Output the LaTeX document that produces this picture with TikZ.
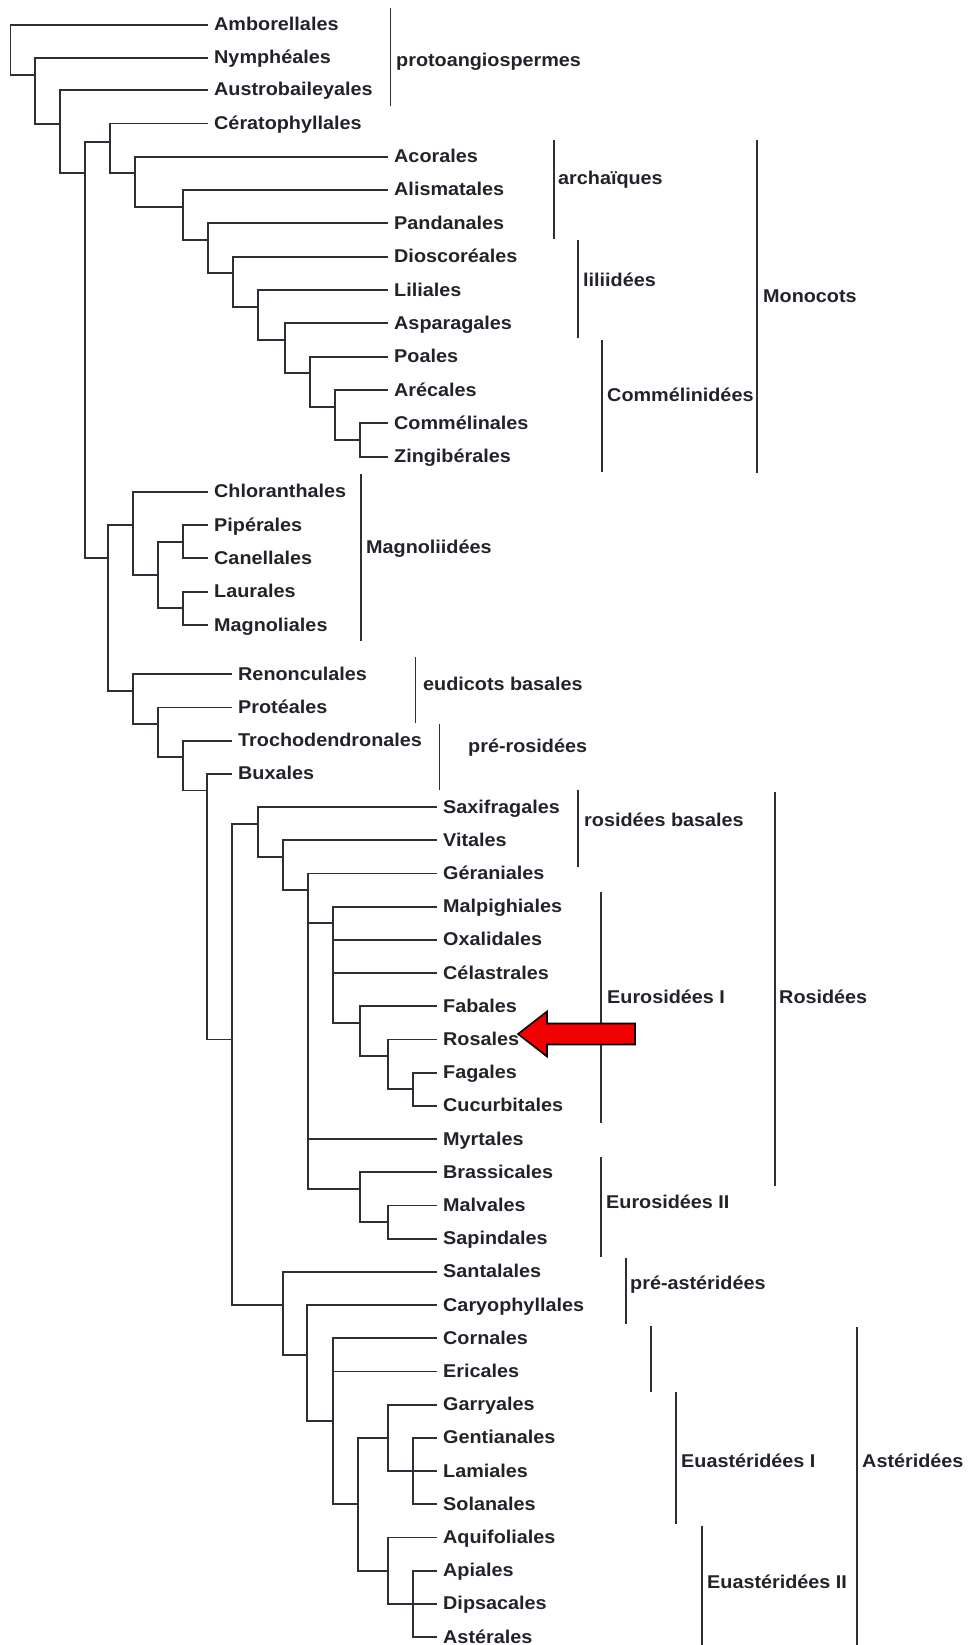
\documentclass[tikz,border=0pt]{standalone}
\usepackage{fontspec}
\newfontfamily\lab{Liberation Sans}[FakeStretch=1.07]
\definecolor{linec}{HTML}{2E2E36}
\definecolor{txtc}{HTML}{22222A}
\definecolor{arrowred}{HTML}{F00000}
\tikzset{
  br/.style={line width=1.8pt, draw=linec},
  bracket/.style={line width=1.7pt, draw=linec},
  leaf/.style={anchor=base west, inner sep=0pt, text=txtc, font=\lab\bfseries\fontsize{18.5}{20}\selectfont},
  redarrow/.style={fill=arrowred, draw=black, line width=1.6pt, line join=miter},
}
% leaf: name, tip x, y, text
\newcommand\lf[4]{\coordinate (#1) at (#2,#3); \node[leaf] (#1t) at (#2+6,#3+6) {#4};}
% group bar: name, x, y1, y2, label, label x, baseline
\newcommand\grp[7]{\coordinate (#1a) at (#2,#3); \coordinate (#1b) at (#2,#4);
  \draw[bracket] (#1a) -- (#1b); \node[leaf] (#1l) at (#6,#7) {#5};}
\begin{document}
\begin{tikzpicture}[x=1pt,y=-1pt]
\useasboundingbox[fill=white] (0,0) rectangle (967,1645);
\clip (0,0) rectangle (967,1645);
% ---------- leaves ----------
\lf{amb}{208}{25}{Amborellales}
\lf{nym}{208}{58}{Nymphéales}
\lf{aus}{208}{90}{Austrobaileyales}
\lf{cer}{208}{123.5}{Cératophyllales}
\lf{aco}{388}{156.7}{Acorales}
\lf{ali}{388}{190}{Alismatales}
\lf{pan}{388}{223.3}{Pandanales}
\lf{dio}{388}{256.7}{Dioscoréales}
\lf{lil}{388}{290}{Liliales}
\lf{asp}{388}{323.3}{Asparagales}
\lf{poa}{388}{356.7}{Poales}
\lf{are}{388}{390}{Arécales}
\lf{com}{388}{423.3}{Commélinales}
\lf{zin}{388}{456.7}{Zingibérales}
\lf{chl}{208}{491.7}{Chloranthales}
\lf{pip}{208}{525}{Pipérales}
\lf{can}{208}{558.3}{Canellales}
\lf{lau}{208}{591.7}{Laurales}
\lf{mag}{208}{625}{Magnoliales}
\lf{ren}{232}{674.3}{Renonculales}
\lf{pro}{232}{674.3+33.2*1}{Protéales}
\lf{tro}{232}{674.3+33.2*2}{Trochodendronales}
\lf{bux}{232}{674.3+33.2*3}{Buxales}
\lf{sax}{437}{674.3+33.2*4}{Saxifragales}
\lf{vit}{437}{674.3+33.2*5}{Vitales}
\lf{ger}{437}{674.3+33.2*6}{Géraniales}
\lf{mal}{437}{674.3+33.2*7}{Malpighiales}
\lf{oxa}{437}{674.3+33.2*8}{Oxalidales}
\lf{cel}{437}{674.3+33.2*9}{Célastrales}
\lf{fab}{437}{674.3+33.2*10}{Fabales}
\lf{ros}{437}{674.3+33.2*11}{Rosales}
\lf{fag}{437}{674.3+33.2*12}{Fagales}
\lf{cuc}{437}{674.3+33.2*13}{Cucurbitales}
\lf{myr}{437}{674.3+33.2*14}{Myrtales}
\lf{bra}{437}{674.3+33.2*15}{Brassicales}
\lf{mlv}{437}{674.3+33.2*16}{Malvales}
\lf{sap}{437}{674.3+33.2*17}{Sapindales}
\lf{san}{437}{674.3+33.2*18}{Santalales}
\lf{car}{437}{674.3+33.2*19}{Caryophyllales}
\lf{cor}{437}{674.3+33.2*20}{Cornales}
\lf{eri}{437}{674.3+33.2*21}{Ericales}
\lf{gar}{437}{674.3+33.2*22}{Garryales}
\lf{gen}{437}{674.3+33.2*23}{Gentianales}
\lf{lam}{437}{674.3+33.2*24}{Lamiales}
\lf{sol}{437}{674.3+33.2*25}{Solanales}
\lf{aqu}{437}{674.3+33.2*26}{Aquifoliales}
\lf{api}{437}{674.3+33.2*27}{Apiales}
\lf{dip}{437}{674.3+33.2*28}{Dipsacales}
\lf{ast}{437}{674.3+33.2*29}{Astérales}
% ---------- internal nodes ----------
\coordinate (root) at (10.5,50);
\coordinate (N1) at (35,75);
\coordinate (N2) at (60,124);
\coordinate (N3) at (85,173.3);
\coordinate (N4) at (110,141.7);
\coordinate (M1) at (135,173.3);
\coordinate (M2) at (183,206.7);
\coordinate (M3) at (208,240);
\coordinate (M4) at (233,273.3);
\coordinate (M5) at (258,306.7);
\coordinate (M6) at (285,340);
\coordinate (M7) at (310,373.3);
\coordinate (M8) at (335,406.7);
\coordinate (M9) at (360,440);
\coordinate (N5) at (108,558.3);
\coordinate (Mg1) at (133,525);
\coordinate (Mg2) at (158,575);
\coordinate (Mg3) at (183,541.7);
\coordinate (Mg4) at (183,608.3);
\coordinate (E1) at (133,674.3+33.2*0.5);
\coordinate (E2) at (158,674.3+33.2*1.5);
\coordinate (E3) at (183,674.3+33.2*2.5);
\coordinate (E4) at (207,674.3+33.2*3.5);
\coordinate (E5) at (232,674.3+33.2*11);
\coordinate (R1) at (258,674.3+33.2*4.5);
\coordinate (R2) at (283,674.3+33.2*5.5);
\coordinate (R3) at (308,674.3+33.2*6.5);
\coordinate (R4) at (333,674.3+33.2*7.5);
\coordinate (R5) at (360,674.3+33.2*10.5);
\coordinate (R6) at (388,674.3+33.2*11.5);
\coordinate (R7) at (413,674.3+33.2*12.5);
\coordinate (R8) at (360,674.3+33.2*15.5);
\coordinate (R9) at (388,674.3+33.2*16.5);
\coordinate (A1) at (283,674.3+33.2*19);
\coordinate (A2) at (307,674.3+33.2*20.5);
\coordinate (A3) at (333,674.3+33.2*22.5);
\coordinate (A4) at (358,674.3+33.2*25);
\coordinate (A5) at (388,674.3+33.2*23);
\coordinate (G) at (413,674.3+33.2*24);
\coordinate (A6) at (388,674.3+33.2*27);
\coordinate (D) at (413,674.3+33.2*28);
% ---------- branches ----------
\draw[br] (root) |- (amb); \draw[br] (root) |- (N1);
\draw[br] (N1) |- (nym);  \draw[br] (N1) |- (N2);
\draw[br] (N2) |- (aus);  \draw[br] (N2) |- (N3);
\draw[br] (N3) |- (N4);   \draw[br] (N3) |- (N5);
\draw[br] (N4) |- (cer);  \draw[br] (N4) |- (M1);
\draw[br] (M1) |- (aco);  \draw[br] (M1) |- (M2);
\draw[br] (M2) |- (ali);  \draw[br] (M2) |- (M3);
\draw[br] (M3) |- (pan);  \draw[br] (M3) |- (M4);
\draw[br] (M4) |- (dio);  \draw[br] (M4) |- (M5);
\draw[br] (M5) |- (lil);  \draw[br] (M5) |- (M6);
\draw[br] (M6) |- (asp);  \draw[br] (M6) |- (M7);
\draw[br] (M7) |- (poa);  \draw[br] (M7) |- (M8);
\draw[br] (M8) |- (are);  \draw[br] (M8) |- (M9);
\draw[br] (M9) |- (com);  \draw[br] (M9) |- (zin);
\draw[br] (N5) |- (Mg1);  \draw[br] (N5) |- (E1);
\draw[br] (Mg1) |- (chl); \draw[br] (Mg1) |- (Mg2);
\draw[br] (Mg2) |- (Mg3); \draw[br] (Mg2) |- (Mg4);
\draw[br] (Mg3) |- (pip); \draw[br] (Mg3) |- (can);
\draw[br] (Mg4) |- (lau); \draw[br] (Mg4) |- (mag);
\draw[br] (E1) |- (ren);  \draw[br] (E1) |- (E2);
\draw[br] (E2) |- (pro);  \draw[br] (E2) |- (E3);
\draw[br] (E3) |- (tro);  \draw[br] (E3) |- (E4);
\draw[br] (E4) |- (bux);  \draw[br] (E4) |- (E5);
\draw[br] (E5) |- (R1);   \draw[br] (E5) |- (A1);
\draw[br] (R1) |- (sax);  \draw[br] (R1) |- (R2);
\draw[br] (R2) |- (vit);  \draw[br] (R2) |- (R3);
\draw[br] (R3) |- (ger);  \draw[br] (R3) |- (R4);
\draw[br] (R3) |- (myr);  \draw[br] (R3) |- (R8);
\draw[br] (R4) |- (mal);  \draw[br] (R4) |- (oxa);
\draw[br] (R4) |- (cel);  \draw[br] (R4) |- (R5);
\draw[br] (R5) |- (fab);  \draw[br] (R5) |- (R6);
\draw[br] (R6) |- (ros);  \draw[br] (R6) |- (R7);
\draw[br] (R7) |- (fag);  \draw[br] (R7) |- (cuc);
\draw[br] (R8) |- (bra);  \draw[br] (R8) |- (R9);
\draw[br] (R9) |- (mlv);  \draw[br] (R9) |- (sap);
\draw[br] (A1) |- (san);  \draw[br] (A1) |- (A2);
\draw[br] (A2) |- (car);  \draw[br] (A2) |- (A3);
\draw[br] (A3) |- (cor);  \draw[br] (A3) |- (eri);
\draw[br] (A3) |- (A4);
\draw[br] (A4) |- (A5);   \draw[br] (A4) |- (A6);
\draw[br] (A5) |- (gar);  \draw[br] (A5) |- (G);
\draw[br] (G) |- (gen);   \draw[br] (G) |- (lam);  \draw[br] (G) |- (sol);
\draw[br] (A6) |- (aqu);  \draw[br] (A6) |- (D);
\draw[br] (D) |- (api);   \draw[br] (D) |- (dip);  \draw[br] (D) |- (ast);
% ---------- group bars ----------
\grp{gproto}{390.5}{8}{106.5}{protoangiospermes}{396}{67}
\grp{garch}{554}{140}{239}{archaïques}{558}{185}
\grp{glili}{578}{240}{338}{liliidées}{583}{287}
\grp{gcomm}{602}{340}{472}{Commélinidées}{607}{401}
\grp{gmono}{757}{140}{473}{Monocots}{763}{302}
\grp{gmagn}{361}{474}{641}{Magnoliidées}{366}{553}
\grp{geudi}{415.5}{656.7}{723}{eudicots basales}{423}{690}
\grp{gprer}{439.5}{724}{790}{pré-rosidées}{468}{752}
\grp{grosb}{578}{790}{866.7}{rosidées basales}{584}{826}
\grp{grosi}{775}{791.7}{1186}{Rosidées}{779}{1003}
\grp{geur1}{601}{891.7}{1123}{Eurosidées I}{607}{1003}
\grp{geur2}{601}{1157}{1257}{Eurosidées II}{606}{1208}
\grp{gprea}{626}{1258}{1324}{pré-astéridées}{630}{1289}
\grp{gcoer}{651}{1326}{1392}{}{655}{1360}
\grp{geua1}{676}{1392}{1524}{Euastéridées I}{681}{1467}
\grp{geua2}{702}{1526}{1645}{Euastéridées II}{707}{1588}
\grp{gaste}{857}{1327}{1645}{Astéridées}{862}{1467}
% ---------- red arrow pointing at Rosales ----------
\draw[redarrow] (518,1034) -- (547,1011.5) -- (547,1023.5) -- (635,1023.5)
  -- (635,1044.5) -- (547,1044.5) -- (547,1056.5) -- cycle;
\end{tikzpicture}
\end{document}
